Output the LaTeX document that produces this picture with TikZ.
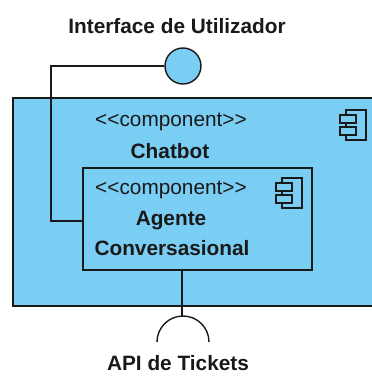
\documentclass[tikz,border=0pt]{standalone}
\usepackage{fontspec}
\setmainfont{Liberation Sans}
\definecolor{compblue}{RGB}{122,206,243}
\definecolor{ink}{RGB}{25,25,25}
\tikzset{
  x=1pt, y=1pt,
  label text/.style={font=\fontsize{20.8}{24}\selectfont\bfseries, text=ink, inner sep=0pt},
  stereo text/.style={font=\fontsize{20.8}{24}\selectfont, text=ink, inner sep=0pt},
  compbox/.style={draw=ink, fill=compblue, line width=1.5pt, inner sep=0pt},
  wire/.style={draw=ink, line width=1.4pt},
  pics/compicon/.style={code={
    \draw[draw=ink, fill=compblue, line width=1.2pt] (-20,0) rectangle (0,-30);
    \draw[draw=ink, fill=compblue, line width=1.2pt] (-26,-5) rectangle (-10,-13);
    \draw[draw=ink, fill=compblue, line width=1.2pt] (-26,-17) rectangle (-10,-25);
  }}
}
\newcommand{\stereotype}[1]{<{}<#1>{}>}
\begin{document}
\begin{tikzpicture}
\useasboundingbox (0,0) rectangle (372,376);
\begin{scope}
\clip (0,0) rectangle (372,376);

% outer component: Chatbot
\node[compbox, minimum width=368pt, minimum height=208pt, anchor=south west] (chatbot) at (12,69) {};
\pic at (366,266) {compicon};
\node[stereo text] (chatstereo) at (171,254) {\stereotype{component}};
\node[label text] (chatname) at (170,225) {Chatbot};

% inner component: Agente Conversasional
\node[compbox, minimum width=229pt, minimum height=102pt, anchor=south west] (agent) at (82,105) {};
\pic at (302,198) {compicon};
\node[stereo text] (agentstereo) at (171,186) {\stereotype{component}};
\node[label text] (agentname1) at (171,155) {Agente};
\node[label text] (agentname2) at (172,128) {Conversasional};

% provided interface (lollipop)
\node[circle, draw=ink, fill=compblue, line width=1.4pt, minimum size=36pt, inner sep=0pt] (iface) at (183,310) {};
\node[label text] (ifacelabel) at (177,350) {Interface de Utilizador};
\coordinate (bend) at (51,310);
\draw[wire] (iface.west) -- (bend) |- (agent.west |- 0,155);

% required interface (socket)
\coordinate (socktop) at (182,60);
\coordinate (sockwest) at (157,34);
\draw[wire] (agent.south -| socktop) -- (socktop);
\draw[wire] (sockwest) arc[start angle=180, end angle=0, radius=26];
\node[label text] (apilabel) at (178,13) {API de Tickets};
\end{scope}
\end{tikzpicture}
\end{document}
